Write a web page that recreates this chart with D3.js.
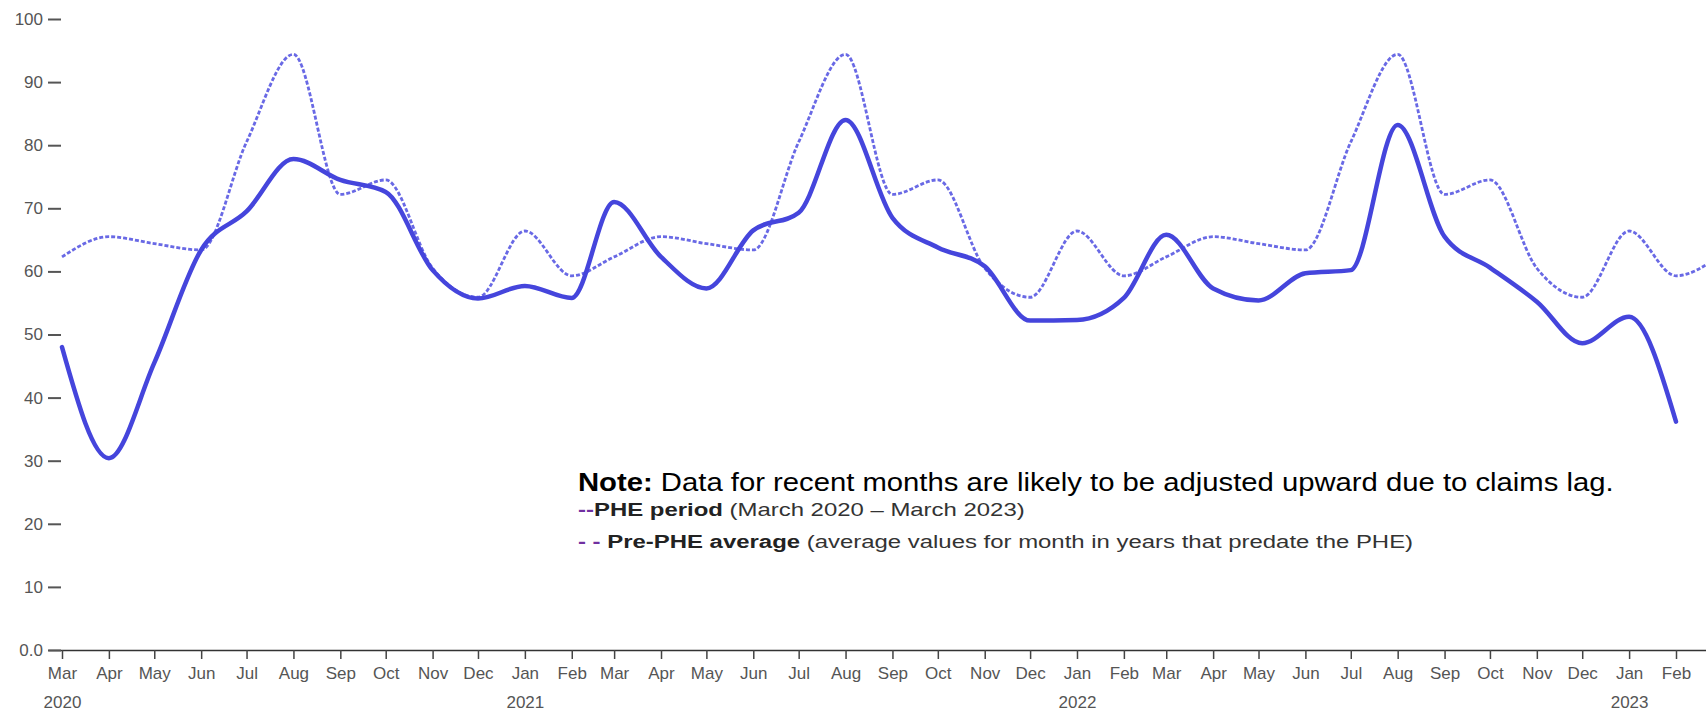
<!DOCTYPE html>
<html>
<head>
<meta charset="utf-8">
<script src="https://cdn.jsdelivr.net/npm/d3@7"></script>
<style>
  body { margin: 0; background: #fff; }
  svg { display: block; font-family: "Liberation Sans", Arial, sans-serif; }
</style>
</head>
<body>
<svg id="chart"></svg>
<script>
// months, first of each month
const months = [
  "2020-03", "2020-04", "2020-05", "2020-06", "2020-07", "2020-08", "2020-09", "2020-10", "2020-11", "2020-12",
  "2021-01", "2021-02", "2021-03", "2021-04", "2021-05", "2021-06", "2021-07", "2021-08", "2021-09", "2021-10", "2021-11", "2021-12",
  "2022-01", "2022-02", "2022-03", "2022-04", "2022-05", "2022-06", "2022-07", "2022-08", "2022-09", "2022-10", "2022-11", "2022-12",
  "2023-01", "2023-02", "2023-03"
]

// PHE period (solid), ends Feb 2023
const phe = [
  48, 30.4, 45.5, 63.4, 69.5, 77.8, 74.5, 72.6, 60.2, 55.7,
  57.7, 55.8, 71, 62.3, 57.3, 66.5, 69.3, 84, 68.5, 63.8, 60.8, 52.2,
  52.3, 55.8, 65.8, 57.3, 55.4, 59.7, 60.2, 83.2, 65.5, 60.6, 55.2, 48.6,
  52.8, 36.2
]

// pre-PHE average (dashed)
const prePhe = [
  62.3, 65.5, 64.4, 63.4, 80.5, 94.4, 72.2, 74.5, 60.5, 55.9,
  66.4, 59.3, 62.3, 65.5, 64.4, 63.4, 80.5, 94.4, 72.2, 74.5, 60.5, 55.9,
  66.4, 59.3, 62.3, 65.5, 64.4, 63.4, 80.5, 94.4, 72.2, 74.5, 60.5, 55.9,
  66.4, 59.3, 62.3
]

const yTicks = [0, 10, 20, 30, 40, 50, 60, 70, 80, 90, 100]

const width = 1706;
const height = 711;

const parseMonth = d3.timeParse("%Y-%m");
const dates = months.map(parseMonth);

const pheData = phe.map((v, i) => ({ date: dates[i], value: v }));
const preData = prePhe.map((v, i) => ({ date: dates[i], value: v }));

// scales: Mar 2020 -> 62, Feb 2023 -> 1676, then widened for the axis line
let xScale = d3.scaleTime()
    .domain([dates[0], dates[35]])
    .range([62, 1676]);
xScale = xScale.copy()
    .domain([xScale.invert(48), xScale.invert(1706)])
    .range([48, 1706]);

let yScale = d3.scaleLinear()
    .domain([0, 100])
    .range([650, 19]);

const svg = d3.select("#chart")
    .attr("width", width)
    .attr("height", height)
    .attr("viewBox", [0, 0, width, height]);

// axes
yAxis = g => g
    .attr("transform", "translate(61,0)")
    .call(d3.axisLeft(yScale).tickValues(yTicks).tickSize(13).tickPadding(5)
        .tickFormat(d => d === 0 ? "0.0" : d))
    .call(g => g.select(".domain").remove())
    .call(g => g.selectAll(".tick line").attr("stroke", "#555").attr("stroke-width", 2))
    .call(g => g.selectAll(".tick text").attr("fill", "#555").attr("font-size", 17)
        .attr("font-family", "Liberation Sans, Arial, sans-serif"))

xAxis = g => g
    .attr("transform", "translate(0,650)")
    .call(d3.axisBottom(xScale).ticks(d3.timeMonth.every(1)).tickSize(9).tickSizeOuter(0).tickPadding(8)
        .tickFormat(d3.timeFormat("%b")))
    .call(g => g.select(".domain").attr("stroke", "#333").attr("stroke-width", 1.5))
    .call(g => g.selectAll(".tick line").attr("stroke", "#444").attr("stroke-width", 1.5))
    .call(g => g.selectAll(".tick text").attr("fill", "#555").attr("font-size", 17)
        .attr("font-family", "Liberation Sans, Arial, sans-serif"))
    .call(g => g.selectAll(".tick")
        .filter((d, i) => i === 0 || d.getMonth() === 0)
        .append("text")
        .attr("fill", "#555")
        .attr("font-size", 17)
        .attr("font-family", "Liberation Sans, Arial, sans-serif")
        .attr("y", 46)
        .attr("dy", "0.71em")
        .text(d => d.getFullYear()))

svg.append("g").call(xAxis);
svg.append("g").call(yAxis);

// lines
const line = d3.line()
    .x(d => xScale(d.date))
    .y(d => yScale(d.value))
    .curve(d3.curveMonotoneX);

svg.append("path")
    .datum(preData)
    .attr("fill", "none")
    .attr("stroke", "#4f4fe0")
    .attr("stroke-opacity", 0.85)
    .attr("stroke-width", 2.8)
    .attr("stroke-dasharray", "4,2")
    .attr("d", line);

svg.append("path")
    .datum(pheData)
    .attr("fill", "none")
    .attr("stroke", "#4545dc")
    .attr("stroke-width", 4.5)
    .attr("stroke-linecap", "round")
    .attr("d", line);

// note / legend, stretched sideways to the widths in the picture
const note = svg.append("g")
    .attr("font-family", "Liberation Sans, Arial, sans-serif");

function noteLine(y, size, targetWidth) {
    const g = note.append("g");
    const t = g.append("text").attr("x", 0).attr("y", 0).attr("font-size", size).attr("fill", "#222");
    return { g, t, y, targetWidth };
}

const n1 = noteLine(491, 25, 1036);
n1.t.attr("fill", "#000");
n1.t.append("tspan").attr("font-weight", "bold").text("Note:");
n1.t.append("tspan").text(" Data for recent months are likely to be adjusted upward due to claims lag.");

const n2 = noteLine(516, 18.5, 447);
n2.t.append("tspan").attr("font-weight", "bold").attr("fill", "#7030a0").text("--");
n2.t.append("tspan").attr("font-weight", "bold").attr("fill", "#222").text("PHE period");
n2.t.append("tspan").attr("fill", "#333").text(" (March 2020 \u2013 March 2023)");

const n3 = noteLine(548, 18.5, 836);
n3.t.append("tspan").attr("font-weight", "bold").attr("fill", "#7030a0").text("- -");
n3.t.append("tspan").attr("font-weight", "bold").attr("fill", "#222").text(" Pre-PHE average");
n3.t.append("tspan").attr("fill", "#333").text(" (average values for month in years that predate the PHE)");

[n1, n2, n3].forEach(n => {
    const w = n.t.node().getComputedTextLength();
    n.g.attr("transform", `translate(578,${n.y}) scale(${n.targetWidth / w},1)`);
});
</script>
</body>
</html>
